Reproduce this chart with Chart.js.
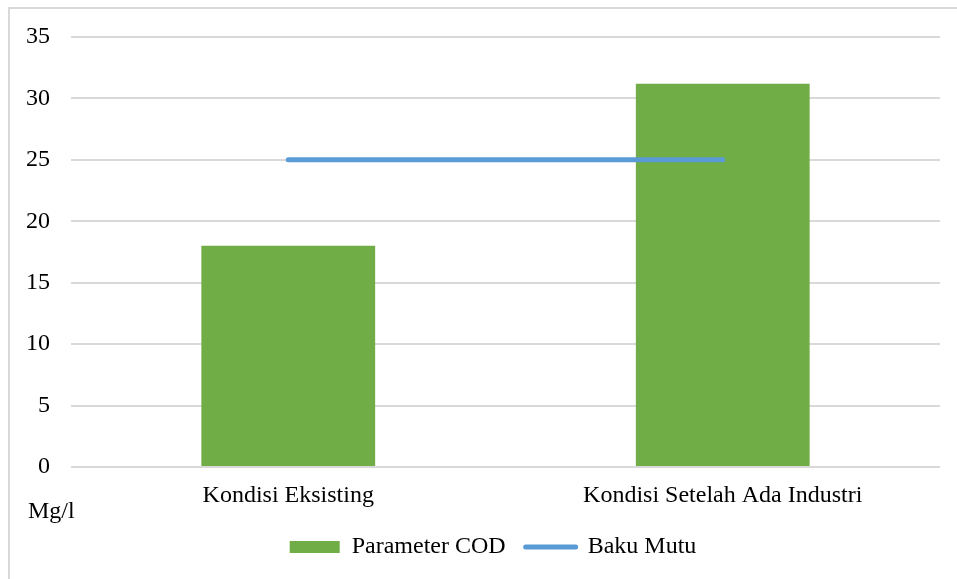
<!DOCTYPE html>
<html>
<head>
<meta charset="utf-8">
<script src="https://cdn.jsdelivr.net/npm/chart.js@4.4.0/dist/chart.umd.min.js"></script>
<style>
  body { margin: 0; background: #fff; }
  #frame { position: absolute; left: 8px; top: 7px; width: 980px; height: 620px; border-left: 2px solid #d9d9d9; border-top: 2px solid #d9d9d9; }
  #chart { position: absolute; left: 0; top: 0; }
</style>
</head>
<body>
<div id="frame"></div>
<canvas id="chart" width="957" height="579"></canvas>
<script>
// data
const categories = ['Kondisi Eksisting', 'Kondisi Setelah Ada Industri'];
const codValues = [18, 31.2];
const bakuMutu = [25, 25];
const unitLabel = 'Mg/l';

const FONT = "'Liberation Serif', 'Times New Roman', serif";

// unit text under the y axis, and nudge the legend so it centres like the original
const unitPlugin = {
  id: 'unitText',
  afterLayout(chart) {
    if (chart.legend) chart.legend.left = 46;
  },
  afterDraw(chart) {
    const ctx = chart.ctx;
    ctx.save();
    ctx.font = '24px ' + FONT;
    ctx.fillStyle = '#000';
    ctx.textAlign = 'left';
    ctx.textBaseline = 'alphabetic';
    ctx.fillText(unitLabel, 28, 518);
    ctx.restore();
  }
};

new Chart(document.getElementById('chart'), {
  type: 'bar',
  data: {
    labels: categories,
    datasets: [
      {
        type: 'bar',
        label: 'Parameter COD',
        data: codValues,
        backgroundColor: '#70AD47',
        barPercentage: 0.4,
        categoryPercentage: 1,
        order: 1
      },
      {
        type: 'line',
        label: 'Baku Mutu',
        data: bakuMutu,
        borderColor: '#5B9BD5',
        backgroundColor: '#5B9BD5',
        borderWidth: 5,
        borderCapStyle: 'round',
        pointRadius: 0,
        order: 0
      }
    ]
  },
  options: {
    responsive: false,
    animation: false,
    layout: { padding: { left: 0, right: 17, top: 37, bottom: 10 } },
    scales: {
      x: {
        grid: { display: false },
        border: { display: false },
        ticks: { color: '#000', font: { family: FONT, size: 24 }, padding: 6 },
        afterFit(scale) { scale.height = 48; }
      },
      y: {
        min: 0,
        max: 35,
        ticks: { stepSize: 5, color: '#000', font: { family: FONT, size: 24 }, padding: 21 },
        grid: { color: '#d9d9d9', lineWidth: 2, drawTicks: false },
        border: { display: false },
        afterFit(scale) { scale.width = 71; }
      }
    },
    plugins: {
      legend: {
        position: 'bottom',
        labels: {
          color: '#000',
          font: { family: FONT, size: 24 },
          usePointStyle: true,
          pointStyleWidth: 50,
          boxHeight: 12,
          padding: 20,
          generateLabels(chart) {
            return chart.data.datasets.map((ds, i) => ({
              text: ds.label,
              datasetIndex: i,
              fillStyle: ds.backgroundColor,
              strokeStyle: ds.type === 'line' ? ds.borderColor : ds.backgroundColor,
              lineWidth: ds.type === 'line' ? 5 : 0,
              lineCap: 'round',
              pointStyle: ds.type === 'line' ? 'line' : 'rect',
              fontColor: '#000'
            }));
          }
        }
      },
      tooltip: { enabled: false }
    }
  },
  plugins: [unitPlugin]
});
</script>
</body>
</html>
